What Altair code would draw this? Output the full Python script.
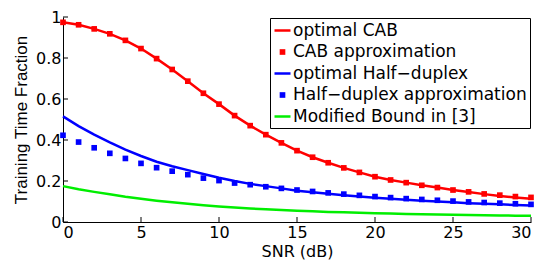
import altair as alt
import pandas as pd

snr = list(range(31))

cab_opt = [0.974, 0.962, 0.942, 0.918, 0.886, 0.846, 0.797, 0.744, 0.687, 0.628,
           0.575, 0.519, 0.470, 0.426, 0.386, 0.348, 0.316, 0.289, 0.264, 0.242,
           0.221, 0.205, 0.192, 0.179, 0.168, 0.156, 0.146, 0.136, 0.127, 0.120, 0.113]
cab_apx = [0.974, 0.962, 0.942, 0.918, 0.886, 0.846, 0.797, 0.744, 0.687, 0.628,
           0.575, 0.519, 0.470, 0.426, 0.386, 0.348, 0.316, 0.289, 0.264, 0.242,
           0.221, 0.205, 0.192, 0.179, 0.168, 0.156, 0.147, 0.137, 0.131, 0.124, 0.120]
hd_opt = [0.515, 0.468, 0.426, 0.388, 0.353, 0.322, 0.294, 0.272, 0.253, 0.234,
          0.216, 0.200, 0.186, 0.175, 0.164, 0.153, 0.145, 0.138, 0.131, 0.124,
          0.118, 0.113, 0.108, 0.104, 0.100, 0.096, 0.092, 0.089, 0.086, 0.083, 0.080]
hd_apx = [0.423, 0.390, 0.362, 0.335, 0.310, 0.286, 0.265, 0.248, 0.231, 0.214,
          0.202, 0.190, 0.182, 0.172, 0.164, 0.156, 0.149, 0.142, 0.136, 0.130,
          0.124, 0.119, 0.114, 0.110, 0.106, 0.102, 0.098, 0.095, 0.092, 0.089, 0.086]
mod_bound = [0.175, 0.160, 0.147, 0.135, 0.123, 0.113, 0.104, 0.096, 0.089, 0.082,
             0.076, 0.071, 0.066, 0.062, 0.058, 0.055, 0.052, 0.049, 0.047, 0.045,
             0.043, 0.041, 0.039, 0.038, 0.036, 0.035, 0.034, 0.033, 0.032, 0.031, 0.030]

names = ["optimal CAB", "CAB approximation", "optimal Half\u2212duplex",
         "Half\u2212duplex approximation", "Modified Bound in [3]"]
colors = ["#ff0000", "#ff0000", "#0000ff", "#0000ff", "#00ee00"]
shapes = ["stroke", "square", "stroke", "square", "stroke"]
sizes = [256, 32, 256, 32, 256]
widths = [2.5, 0, 2.5, 0, 2.5]

x_ticks = [0, 5, 10, 15, 20, 25, 30]
y_ticks = [0, 0.2, 0.4, 0.6, 0.8, 1.0]

W, H = 468, 205
FONT = "DejaVu Sans"

rows_line = []
for nm, vals in [(names[0], cab_opt), (names[2], hd_opt), (names[4], mod_bound)]:
    for s, v in zip(snr, vals):
        rows_line.append({"snr": s, "val": v, "series": nm})
rows_pt = []
for nm, vals in [(names[1], cab_apx), (names[3], hd_apx)]:
    for s, v in zip(snr, vals):
        rows_pt.append({"snr": s, "val": v, "series": nm})
df_line = pd.DataFrame(rows_line)
df_pt = pd.DataFrame(rows_pt)

xscale = alt.Scale(domain=[0, 30], nice=False)
yscale = alt.Scale(domain=[0, 1], nice=False)
color_scale = alt.Scale(domain=names, range=colors)

legend = alt.Legend(
    title=None, orient="none", legendX=207, legendY=1,
    strokeColor="black", fillColor="white", padding=3,
    labelFont=FONT, labelFontSize=17, labelColor="black", labelLimit=0,
    rowPadding=3.5, labelOffset=1, symbolOffset=0, symbolOpacity=1,
)

x_axis = alt.Axis(title="SNR (dB)", values=x_ticks, tickSize=0, labelPadding=2,
                  titlePadding=3, domainColor="black", grid=False,
                  labelFont=FONT, titleFont=FONT, labelFontSize=16, titleFontSize=16)
y_axis = alt.Axis(title="Training Time Fraction", values=y_ticks, format="~g",
                  tickSize=0, labelPadding=2, titlePadding=5, domainColor="black", grid=False,
                  labelFont=FONT, titleFont="Liberation Sans", labelFontSize=16, titleFontSize=17)

lines = alt.Chart(df_line).mark_line(strokeWidth=2.5).encode(
    x=alt.X("snr:Q", scale=xscale, axis=x_axis),
    y=alt.Y("val:Q", scale=yscale, axis=y_axis),
    stroke=alt.Stroke("series:N", scale=color_scale, legend=legend, sort=names),
)

points = alt.Chart(df_pt).mark_point(filled=True, opacity=1).encode(
    x=alt.X("snr:Q", scale=xscale),
    y=alt.Y("val:Q", scale=yscale),
    fill=alt.Fill("series:N", scale=color_scale, legend=legend, sort=names),
    stroke=alt.Stroke("series:N", scale=color_scale, legend=legend, sort=names),
    shape=alt.Shape("series:N", scale=alt.Scale(domain=names, range=shapes), legend=legend, sort=names),
    size=alt.Size("series:N", scale=alt.Scale(type="ordinal", domain=names, range=sizes),
                  legend=legend, sort=names),
    strokeWidth=alt.StrokeWidth("series:N", scale=alt.Scale(type="ordinal", domain=names, range=widths),
                                legend=legend, sort=names),
)

xt = alt.Chart(pd.DataFrame({"t": x_ticks})).mark_rule(color="black", strokeWidth=1).encode(
    x=alt.X("t:Q", scale=xscale), y=alt.value(H), y2=alt.value(H - 5))
yt = alt.Chart(pd.DataFrame({"t": y_ticks})).mark_rule(color="black", strokeWidth=1).encode(
    y=alt.Y("t:Q", scale=yscale), x=alt.value(0), x2=alt.value(5))

chart = alt.layer(lines, points, xt, yt).properties(
    width=W, height=H,
    background="white",
    autosize=alt.AutoSizeParams(type="none"),
    padding={"left": 55, "top": 9, "right": 4, "bottom": 38},
).configure_view(stroke=None).configure_axis(
    labelColor="black", titleColor="black", titleFontWeight="normal",
)

chart.save("out.html", embed_options={"renderer": "svg", "actions": False})
